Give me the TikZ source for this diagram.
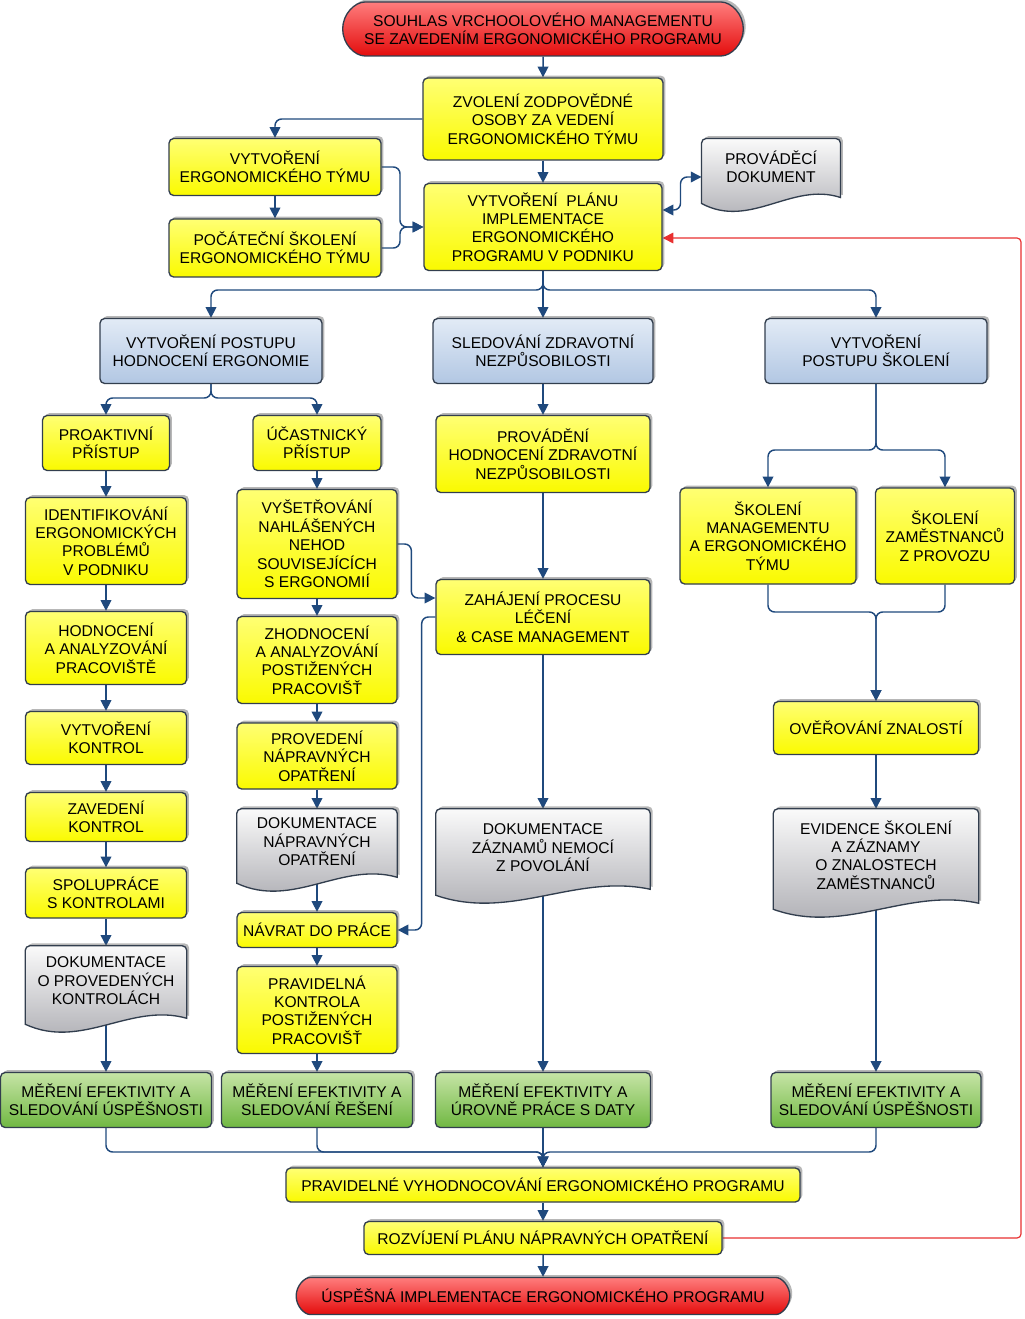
\documentclass[tikz,border=0pt]{standalone}
\usepackage{fontspec}
\setmainfont{Liberation Sans}
\usetikzlibrary{arrows.meta,calc,shadows,shapes.misc}

\definecolor{lineblue}{RGB}{31,73,125}
\definecolor{boxedge}{RGB}{50,62,78}
\definecolor{yelltop}{RGB}{255,255,115}
\definecolor{yellbot}{RGB}{250,250,0}
\definecolor{bluetop}{RGB}{226,235,246}
\definecolor{bluebot}{RGB}{178,199,227}
\definecolor{greentop}{RGB}{198,228,166}
\definecolor{greenbot}{RGB}{112,184,66}
\definecolor{redtop}{RGB}{255,125,125}
\definecolor{redbot}{RGB}{228,12,12}
\definecolor{graytop}{RGB}{250,250,250}
\definecolor{graybot}{RGB}{168,168,174}
\definecolor{backred}{RGB}{232,48,48}

\newcommand\boxfont{\fontsize{11.7pt}{13.8pt}\selectfont}

\pgfdeclarelayer{lines}
\pgfdeclarelayer{docs}
\pgfsetlayers{lines,docs,main}

\tikzset{every picture/.style={line width=0.75pt}}
\tikzset{
  wh/.style 2 args={minimum width=#1*0.75pt, minimum height=#2*0.75pt},
  shade/.style={drop shadow={shadow xshift=1.8pt, shadow yshift=1.8pt, opacity=0.4, fill=black!70}},
  box/.style={draw=boxedge, line width=1pt, rounded corners=3.5pt, align=center, inner sep=2pt, font=\boxfont, shade},
  ybox/.style={box, top color=yelltop, bottom color=yellbot},
  bbox/.style={box, top color=bluetop, bottom color=bluebot},
  gbox/.style={box, top color=greentop, bottom color=greenbot},
  rbox/.style={box, rounded rectangle, top color=redtop, bottom color=redbot},
  doctext/.style={align=center, inner sep=2pt, font=\boxfont},
  docbox/.style={draw=boxedge, line width=1pt, top color=graytop, bottom color=graybot, shade},
  link/.style={draw=lineblue, line width=1.1pt, rounded corners=5pt},
  arr/.style={link, -{Triangle[length=8pt,width=8pt]}},
  arrtwo/.style={link, {Triangle[length=8pt,width=8pt]}-{Triangle[length=8pt,width=8pt]}},
  backline/.style={draw=backred, line width=0.9pt, rounded corners=3pt, -{Triangle[length=8pt,width=8pt]}}
}

% document shape with a wavy lower edge
\newcommand\docshape[1]{%
  \begin{pgfonlayer}{docs}
  \path[docbox] ($(#1.south west)+(0,8)$) [rounded corners=3.5pt] -- (#1.north west) -- (#1.north east) [sharp corners] -- ($(#1.south east)+(0,2)$) .. controls ($(#1.south west)!0.65!(#1.south east)+(0,-14)$) and ($(#1.south west)!0.35!(#1.south east)+(0,34)$) .. ($(#1.south west)+(0,8)$) -- cycle;
  \end{pgfonlayer}}

\begin{document}
\begin{tikzpicture}[x=0.75pt,y=0.75pt,yscale=-1,xscale=1]
\useasboundingbox (0,0) rectangle (1024,1319);

% Terminator
\node[rbox, wh={406}{54}] (souhlas) at (543,29) {SOUHLAS VRCHOOLOVÉHO MANAGEMENTU\\SE ZAVEDENÍM ERGONOMICKÉHO PROGRAMU};
% Process
\node[ybox, wh={240}{82}] (zvoleni) at (543,119) {ZVOLENÍ ZODPOVĚDNÉ\\OSOBY ZA VEDENÍ\\ERGONOMICKÉHO TÝMU};
\node[ybox, wh={212}{57}] (tym) at (275,167) {VYTVOŘENÍ\\ERGONOMICKÉHO TÝMU};
\node[ybox, wh={212}{58}] (pocatecni) at (275,248) {POČÁTEČNÍ ŠKOLENÍ\\ERGONOMICKÉHO TÝMU};
\node[ybox, wh={238}{87}] (plan) at (543,227) {VYTVOŘENÍ\ \ PLÁNU\\IMPLEMENTACE\\ERGONOMICKÉHO\\PROGRAMU V PODNIKU};
% Document
\node[doctext, wh={138}{56}] (provadeci) at (771,167) {PROVÁDĚCÍ\\DOKUMENT};
\docshape{provadeci}

% Sub-process heads
\node[bbox, wh={222}{65}] (hodnoceni) at (211,351) {VYTVOŘENÍ POSTUPU\\HODNOCENÍ ERGONOMIE};
\node[bbox, wh={220}{65}] (sledovani) at (543,351) {SLEDOVÁNÍ ZDRAVOTNÍ\\NEZPŮSOBILOSTI};
\node[bbox, wh={222}{65}] (postup) at (876,351) {VYTVOŘENÍ\\POSTUPU ŠKOLENÍ};

% Column 1
\node[ybox, wh={127}{55}] (proaktivni) at (106,443) {PROAKTIVNÍ\\PŘÍSTUP};
\node[ybox, wh={161}{87}] (identif) at (106,541) {IDENTIFIKOVÁNÍ\\ERGONOMICKÝCH\\PROBLÉMŮ\\V PODNIKU};
\node[ybox, wh={161}{73}] (hodnprac) at (106,648) {HODNOCENÍ\\A ANALYZOVÁNÍ\\PRACOVIŠTĚ};
\node[ybox, wh={161}{53}] (vytvkontrol) at (106,738) {VYTVOŘENÍ\\KONTROL};
\node[ybox, wh={161}{49}] (zavedkontrol) at (106,817) {ZAVEDENÍ\\KONTROL};
\node[ybox, wh={161}{50}] (spoluprace) at (106,893) {SPOLUPRÁCE\\S KONTROLAMI};
\node[doctext, wh={161}{70}] (dokkontrol) at (106,981) {DOKUMENTACE\\O PROVEDENÝCH\\KONTROLÁCH};
\docshape{dokkontrol}

% Column 2
\node[ybox, wh={128}{55}] (ucastnicky) at (317,443) {ÚČASTNICKÝ\\PŘÍSTUP};
\node[ybox, wh={160}{109}] (vysetr) at (317,544) {VYŠETŘOVÁNÍ\\NAHLÁŠENÝCH\\NEHOD\\SOUVISEJÍCÍCH\\S ERGONOMIÍ};
\node[ybox, wh={160}{87}] (zhodnoceni) at (317,660) {ZHODNOCENÍ\\A ANALYZOVÁNÍ\\POSTIŽENÝCH\\PRACOVIŠŤ};
\node[ybox, wh={160}{66}] (provedeni) at (317,756) {PROVEDENÍ\\NÁPRAVNÝCH\\OPATŘENÍ};
\node[doctext, wh={160}{66}] (doknapr) at (317,842) {DOKUMENTACE\\NÁPRAVNÝCH\\OPATŘENÍ};
\docshape{doknapr}
\node[ybox, wh={160}{35}] (navrat) at (317,930) {NÁVRAT DO PRÁCE};
\node[ybox, wh={160}{87}] (pravkontrola) at (317,1010) {PRAVIDELNÁ\\KONTROLA\\POSTIŽENÝCH\\PRACOVIŠŤ};

% Column 3
\node[ybox, wh={214}{77}] (provadenizdr) at (543,454) {PROVÁDĚNÍ\\HODNOCENÍ ZDRAVOTNÍ\\NEZPŮSOBILOSTI};
\node[ybox, wh={214}{75}] (zahajeni) at (543,617) {ZAHÁJENÍ PROCESU\\LÉČENÍ\\\& CASE MANAGEMENT};
\node[doctext, wh={214}{78}] (dokzaznamu) at (543,848) {DOKUMENTACE\\ZÁZNAMŮ NEMOCÍ\\Z POVOLÁNÍ};
\docshape{dokzaznamu}

% Column 4
\node[ybox, wh={176}{96}] (skolmgmt) at (768,536) {ŠKOLENÍ\\MANAGEMENTU\\A ERGONOMICKÉHO\\TÝMU};
\node[ybox, wh={139}{96}] (skolzam) at (945,536) {ŠKOLENÍ\\ZAMĚSTNANCŮ\\Z PROVOZU};
\node[ybox, wh={205}{53}] (overovani) at (876,728) {OVĚŘOVÁNÍ ZNALOSTÍ};
\node[doctext, wh={205}{92}] (evidence) at (876,855) {EVIDENCE ŠKOLENÍ\\A ZÁZNAMY\\O ZNALOSTECH\\ZAMĚSTNANCŮ};
\docshape{evidence}

% Measurement
\node[gbox, wh={211}{55}] (mereni1) at (106,1100) {MĚŘENÍ EFEKTIVITY A\\SLEDOVÁNÍ ÚSPĚŠNOSTI};
\node[gbox, wh={191}{55}] (mereni2) at (317,1100) {MĚŘENÍ EFEKTIVITY A\\SLEDOVÁNÍ ŘEŠENÍ};
\node[gbox, wh={215}{55}] (mereni3) at (543,1100) {MĚŘENÍ EFEKTIVITY A\\ÚROVNĚ PRÁCE S DATY};
\node[gbox, wh={210}{55}] (mereni4) at (876,1100) {MĚŘENÍ EFEKTIVITY A\\SLEDOVÁNÍ ÚSPĚŠNOSTI};

% Closing steps
\node[ybox, wh={514}{34}] (vyhodnoceni) at (543,1185) {PRAVIDELNÉ VYHODNOCOVÁNÍ ERGONOMICKÉHO PROGRAMU};
\node[ybox, wh={358}{33}] (rozvijeni) at (543,1238) {ROZVÍJENÍ PLÁNU NÁPRAVNÝCH OPATŘENÍ};
\node[rbox, wh={499}{37}] (uspesna) at (543,1296) {ÚSPĚŠNÁ IMPLEMENTACE ERGONOMICKÉHO PROGRAMU};

% Junctions
\coordinate (mergeT) at (400,227);
\coordinate (splitP) at (543,290);
\coordinate (splitH) at (211,398);
\coordinate (splitS) at (876,450);
\coordinate (joinS) at (876,612);
\coordinate (joinM) at (543,1152);
\coordinate (loopR) at (1021,238);

\begin{pgfonlayer}{lines}
%Straight Lines
\draw[arr] (souhlas) -- (zvoleni);
\draw[arr] (zvoleni) -- (plan);
\draw[arr] (zvoleni.west) -| (tym.north);
\draw[arr] (tym) -- (pocatecni);
\draw[arr] (tym.east) -| (mergeT) -- (plan.west);
\draw[arr] (pocatecni.east) -| (mergeT) -- (plan.west);
\draw[arrtwo] ($(plan.east)+(0,-17)$) -| ($(provadeci.west)+(-21,10)$) -- ($(provadeci.west)+(0,10)$);
%Branches
\draw[arr] (plan.south) -- (splitP) -| (hodnoceni.north);
\draw[arr] (plan.south) -- (splitP) -| (postup.north);
\draw[arr] (plan) -- (sledovani);
\draw[arr] (hodnoceni.south) -- (splitH) -| (proaktivni.north);
\draw[arr] (hodnoceni.south) -- (splitH) -| (ucastnicky.north);
%Column 1
\draw[arr] (proaktivni) -- (identif);
\draw[arr] (identif) -- (hodnprac);
\draw[arr] (hodnprac) -- (vytvkontrol);
\draw[arr] (vytvkontrol) -- (zavedkontrol);
\draw[arr] (zavedkontrol) -- (spoluprace);
\draw[arr] (spoluprace) -- (dokkontrol);
\draw[arr] (dokkontrol) -- (mereni1);
%Column 2
\draw[arr] (ucastnicky) -- (vysetr);
\draw[arr] (vysetr) -- (zhodnoceni);
\draw[arr] (zhodnoceni) -- (provedeni);
\draw[arr] (provedeni) -- (doknapr);
\draw[arr] (doknapr) -- (navrat);
\draw[arr] (navrat) -- (pravkontrola);
\draw[arr] (pravkontrola) -- (mereni2);
\draw[arr] (vysetr.east) -| ($(zahajeni.west)+(-24,-19)$) -- ($(zahajeni.west)+(0,-19)$);
\draw[arr] (zahajeni.west) -| ($(navrat.east)+(24,0)$) -- (navrat.east);
%Column 3
\draw[arr] (sledovani) -- (provadenizdr);
\draw[arr] (provadenizdr) -- (zahajeni);
\draw[arr] (zahajeni) -- (dokzaznamu);
\draw[arr] (dokzaznamu) -- (mereni3);
%Column 4
\draw[arr] (postup.south) -- (splitS) -| (skolmgmt.north);
\draw[arr] (postup.south) -- (splitS) -| (skolzam.north);
\draw[arr] (skolmgmt.south) |- (joinS) -- (overovani.north);
\draw[arr] (skolzam.south) |- (joinS) -- (overovani.north);
\draw[arr] (overovani) -- (evidence);
\draw[arr] (evidence) -- (mereni4);
%Bottom
\draw[arr] (mereni1.south) |- (joinM) -- (vyhodnoceni.north);
\draw[arr] (mereni2.south) |- (joinM) -- (vyhodnoceni.north);
\draw[arr] (mereni4.south) |- (joinM) -- (vyhodnoceni.north);
\draw[arr] (mereni3) -- (vyhodnoceni);
\draw[arr] (vyhodnoceni) -- (rozvijeni);
\draw[arr] (rozvijeni) -- (uspesna);
%Feedback
\draw[backline] (rozvijeni.east) -| (loopR) -- (plan.east |- loopR);
\end{pgfonlayer}

\end{tikzpicture}
\end{document}
